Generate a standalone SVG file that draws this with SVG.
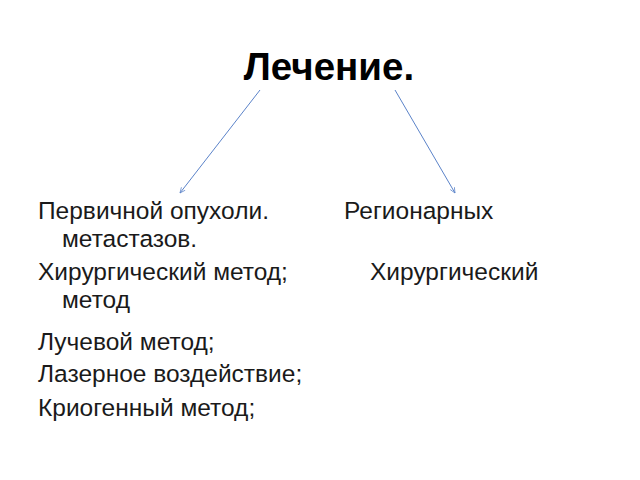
<svg xmlns="http://www.w3.org/2000/svg" width="640" height="480" viewBox="0 0 640 480">
<style>
.t{font-family:"Liberation Sans",Arial,sans-serif;font-size:24.5px;fill:#1a1a1a}
.h{font-family:"Liberation Sans",Arial,sans-serif;font-size:38.5px;font-weight:bold;fill:#000}
.c{stroke:#5b83c9;stroke-width:1;fill:none}
</style>
<defs>
<marker id="a" viewBox="0 0 10 10" refX="9" refY="5" markerWidth="6" markerHeight="6" orient="auto" markerUnits="userSpaceOnUse">
<path d="M0,1 L9,5 L0,9" fill="none" stroke="#5b83c9" stroke-width="1.2"/>
</marker>
</defs>
<rect width="640" height="480" fill="#fff"/>
<g id="title"><text class="h" x="329" y="80" text-anchor="middle">Лечение.</text></g>
<g id="connectors">
<line class="c" x1="260" y1="90" x2="180" y2="193" marker-end="url(#a)"/>
<line class="c" x1="395" y1="90" x2="455" y2="193" marker-end="url(#a)"/>
</g>
<g id="left">
<text class="t" x="38" y="219">Первичной опухоли.</text>
<text class="t" x="62" y="247">метастазов.</text>
<text class="t" x="38" y="280">Хирургический метод;</text>
<text class="t" x="62" y="308">метод</text>
<text class="t" x="38" y="350">Лучевой метод;</text>
<text class="t" x="38" y="382">Лазерное воздействие;</text>
<text class="t" x="38" y="416">Криогенный метод;</text>
</g>
<g id="right">
<text class="t" x="344" y="219">Регионарных</text>
<text class="t" x="370" y="280">Хирургический</text>
</g>
</svg>
